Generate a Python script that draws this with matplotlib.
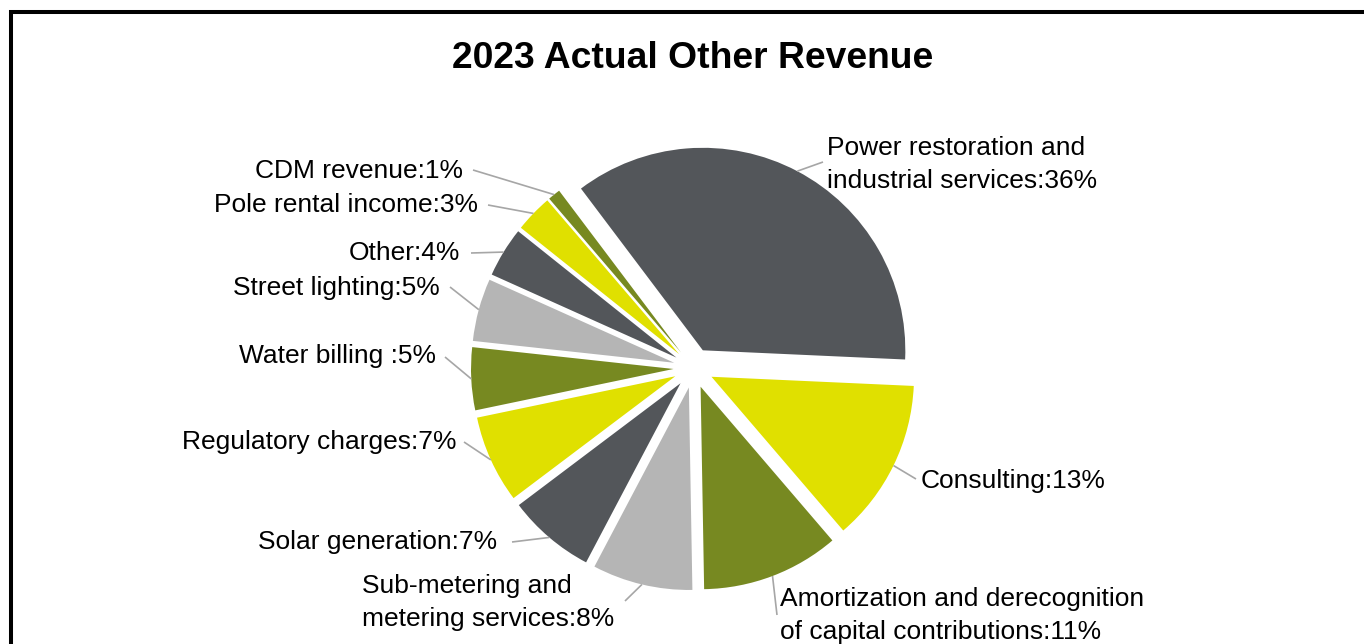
import matplotlib
matplotlib.use("Agg")
import matplotlib.pyplot as plt
import numpy as np
from matplotlib.patches import Rectangle

# ---- data ----
categories = [
    "Power restoration and\nindustrial services",
    "Consulting",
    "Amortization and derecognition\nof capital contributions",
    "Sub-metering and\nmetering services",
    "Solar generation",
    "Regulatory charges",
    "Water billing ",
    "Street lighting",
    "Other",
    "Pole rental income",
    "CDM revenue",
]
values = [36, 13, 11, 8, 7, 7, 5, 5, 4, 3, 1]
title = "2023 Actual Other Revenue"

# ---- style ----
palette = ["#53565A", "#E0E000", "#778921", "#B5B5B5"]
colors = [palette[i % 4] for i in range(len(values))]

W, H = 1364, 644
fig = plt.figure(figsize=(W / 100, H / 100), dpi=100)
ax = fig.add_axes([0, 0, 1, 1])

def Y(y):
    return H - y

cx, cy, R = 693.5, Y(368), 202.5
wedges, _ = ax.pie(values, colors=colors, startangle=127, counterclock=False,
                   explode=[20] * len(values), center=(cx, cy), radius=R,
                   wedgeprops=dict(linewidth=0))
ax.set_xlim(0, W)
ax.set_ylim(0, H)
ax.set_aspect('equal', adjustable='box')
ax.axis('off')

# label layout: (x, y, ha, leader-start x, leader-start y)
layout = [
    (827, 164.5, 'left', 823, 162),
    (921, 481, 'left', 916, 479),
    (780, 615.5, 'left', 777, 615),
    (362, 602.5, 'left', 625, 601),
    (497, 542, 'right', 512, 542),
    (456, 442, 'right', 464, 442),
    (436, 356, 'right', 445, 357),
    (440, 288, 'right', 450, 287),
    (460, 253, 'right', 471, 253),
    (478, 205, 'right', 488, 205),
    (463, 171, 'right', 473, 170),
]

fs = 19
for w, cat, v, (lx, ly, ha, sx, sy) in zip(wedges, categories, values, layout):
    ax.text(lx, Y(ly), f"{cat}:{v}%", ha=ha, va='center', fontsize=fs,
            family='Liberation Sans', color='black', linespacing=1.45)
    mid = np.deg2rad((w.theta1 + w.theta2) / 2)
    ex = w.center[0] + w.r * np.cos(mid)
    ey = w.center[1] + w.r * np.sin(mid)
    ax.plot([sx, ex], [Y(sy), ey], color='#A6A6A6', lw=1.2, solid_capstyle='butt')

ax.text(693, Y(58), title, ha='center', va='center', fontsize=26.8,
        fontweight='bold', family='Liberation Sans')

ax.add_patch(Rectangle((11, -20), 1400, Y(12) + 20, fill=False, ec='black',
                       lw=2.9, clip_on=False))

fig.savefig("out.png", dpi=100)
